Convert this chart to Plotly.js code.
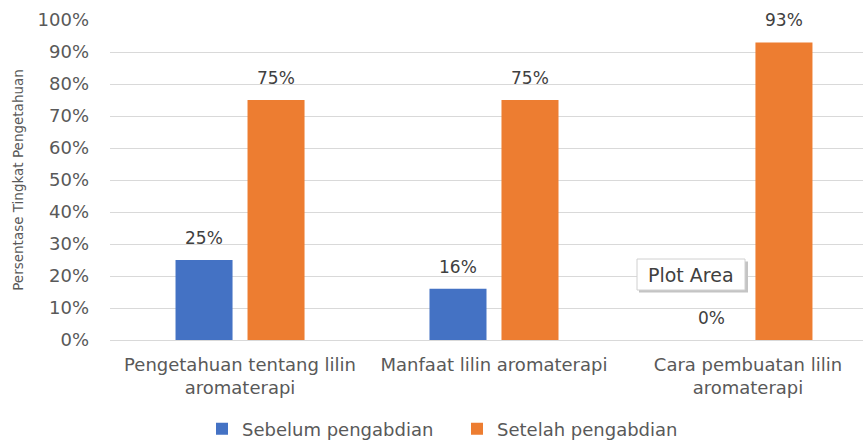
<!DOCTYPE html>
<html>
<head>
<meta charset="utf-8">
<script src="https://cdn.plot.ly/plotly-3.0.1.min.js"></script>
<style>html,body{margin:0;padding:0;background:#fff}#chart{width:863px;height:441px}</style>
</head>
<body>
<div id="chart"></div>
<script>
var categories = ["Pengetahuan tentang lilin<br>aromaterapi", "Manfaat lilin aromaterapi", "Cara pembuatan lilin<br>aromaterapi"];
var seriesNames = ["Sebelum pengabdian", "Setelah pengabdian"];
var sebelum = [0.25, 0.16, 0.00];
var setelah = [0.75, 0.75, 0.93];
var yTickVals = [0, 0.1, 0.2, 0.3, 0.4, 0.5, 0.6, 0.7, 0.8, 0.9, 1.0];
var yTickText = ["0%", "10%", "20%", "30%", "40%", "50%", "60%", "70%", "80%", "90%", "100%"];

var FONT = "DejaVu Sans, Verdana, sans-serif";
var idx = categories.map(function(c, i){ return i; });
function pct(v){ return Math.round(v*100) + "%"; }

var traces = [
  {type:"bar", name:seriesNames[0], x:idx, y:sebelum, marker:{color:"#4472C4"}, hoverinfo:"skip"},
  {type:"bar", name:seriesNames[1], x:idx, y:setelah, marker:{color:"#ED7D31"}, hoverinfo:"skip"}
];

var annotations = [];
[sebelum, setelah].forEach(function(arr, s){
  arr.forEach(function(v, i){
    annotations.push({xref:"x", yref:"y", x:idx[i], y:v, xshift:(s===0?-36:36), yshift:22,
      xanchor:"center", yanchor:"middle", showarrow:false, text:pct(v),
      font:{family:FONT, size:17, color:"#404040"}});
  });
});
var tipX = (691-110)/753, tipY = (340-274.5)/320;
annotations.push({xref:"paper", yref:"paper", x:tipX, y:tipY, xanchor:"center", yanchor:"middle",
  text:"Plot Area", showarrow:false, font:{family:FONT, size:19, color:"#404040"}});

var layout = {
  width:863, height:441,
  margin:{l:110, r:0, t:20, b:101, autoexpand:false},
  paper_bgcolor:"#fff", plot_bgcolor:"#fff",
  font:{family:FONT, color:"#595959"},
  barmode:"group", bargap:0.433, bargroupgap:0.208,
  showlegend:true,
  legend:{orientation:"h", xref:"container", yref:"container", x:202/863, xanchor:"left",
          y:(441-429)/441, yanchor:"middle", entrywidth:210, entrywidthmode:"pixels",
          font:{family:FONT, size:18, color:"#595959"}, itemwidth:30, traceorder:"normal"},
  xaxis:{range:[-0.512, 2.453], tickmode:"array", tickvals:idx, ticktext:categories, automargin:false,
         tickfont:{family:FONT, size:18, color:"#595959"}, showgrid:false,
         showline:false, zeroline:false, ticks:"", ticklabelstandoff:12, fixedrange:true},
  yaxis:{range:[0, 1], tickmode:"array", tickvals:yTickVals, ticktext:yTickText, automargin:false,
         tickfont:{family:FONT, size:18, color:"#595959"},
         showgrid:true, gridcolor:"#D9D9D9", gridwidth:1, zeroline:true, zerolinecolor:"#D9D9D9",
         showline:false, ticks:"", ticklabelstandoff:20,
         title:{text:"Persentase Tingkat Pengetahuan", font:{family:FONT, size:13.5, color:"#595959"}, standoff:10}},
  shapes:[
    {type:"rect", xref:"paper", yref:"paper", xsizemode:"pixel", ysizemode:"pixel",
     xanchor:tipX, yanchor:tipY, x0:-52, x1:57, y0:-18, y1:13,
     fillcolor:"#C4C4C4", line:{width:0}, layer:"above"},
    {type:"rect", xref:"paper", yref:"paper", xsizemode:"pixel", ysizemode:"pixel",
     xanchor:tipX, yanchor:tipY, x0:-54, x1:54, y0:-15.5, y1:15.5,
     fillcolor:"#FFFFFF", line:{width:1, color:"#D0D0D0"}, layer:"above"}
  ],
  annotations:annotations
};

Plotly.newPlot("chart", traces, layout, {displayModeBar:false, staticPlot:true});
</script>
</body>
</html>
